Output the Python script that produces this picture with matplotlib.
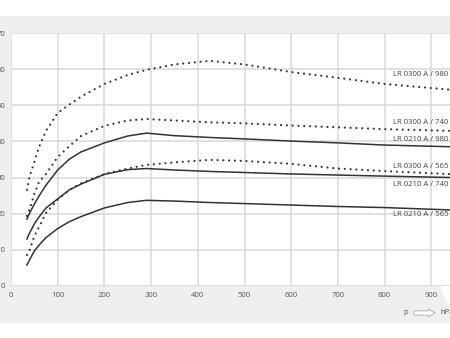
import matplotlib
matplotlib.use('Agg')
import matplotlib.pyplot as plt
from matplotlib.patches import Rectangle, Ellipse

plt.rcParams['font.family'] = ['Open Sans', 'DejaVu Sans']

# shared pressure axis (hPa)
p = [34, 40, 50, 60, 75, 100, 125, 150, 200, 250, 290, 350, 425, 500, 600, 700, 800, 950]

lr0300_980 = [26.6, 30.4, 34.3, 38.5, 42.9, 47.9, 50.2, 52.4, 55.9, 58.4, 59.8, 61.3, 62.3, 61.3, 59.2, 57.6, 55.9, 54.2]
lr0300_740 = [19.4, 21.3, 25.5, 28.8, 31.0, 35.7, 38.7, 41.5, 44.3, 45.8, 46.2, 45.8, 45.3, 45.0, 44.4, 43.9, 43.4, 42.9]
lr0300_565 = [8.6, 10.0, 13.8, 16.3, 20.2, 23.9, 26.6, 28.4, 31.0, 32.5, 33.5, 34.2, 34.9, 34.6, 33.8, 32.5, 31.8, 30.9]
lr0210_980 = [18.5, 20.2, 22.7, 24.9, 27.9, 32.1, 35.1, 37.1, 39.6, 41.5, 42.3, 41.6, 41.1, 40.7, 40.1, 39.6, 39.0, 38.5]
lr0210_740 = [13.0, 14.7, 17.2, 19.1, 21.6, 24.1, 26.6, 28.2, 30.9, 32.2, 32.5, 32.1, 31.7, 31.4, 31.0, 30.7, 30.4, 30.0]
lr0210_565 = [5.8, 7.3, 9.7, 11.3, 13.4, 15.9, 17.8, 19.2, 21.6, 23.1, 23.7, 23.5, 23.1, 22.8, 22.4, 22.0, 21.7, 21.0]

labels = ['LR 0300 A / 980', 'LR 0300 A / 740', 'LR 0210 A / 980',
          'LR 0300 A / 565', 'LR 0210 A / 740', 'LR 0210 A / 565']
label_y = [58.4, 45.2, 40.4, 33.0, 28.1, 19.9]

xticks = [0, 100, 200, 300, 400, 500, 600, 700, 800, 900, 1000]
yticks = [0, 10, 20, 30, 40, 50, 60, 70]

W, H = 450, 338
fig = plt.figure(figsize=(W / 100, H / 100), dpi=100)
fig.patch.set_facecolor('white')
fig.patches.append(Rectangle((0, 15 / H), 1, 307 / H, transform=fig.transFigure,
                             facecolor='#efefef', edgecolor='none', zorder=-10))
fig.patches.append(Ellipse((458 / W, 52 / H), 34 / W, 40 / H, transform=fig.transFigure,
                           facecolor='white', edgecolor='none', zorder=-9))

ax = fig.add_axes([11 / W, 52 / H, 467 / W, 253 / H])
ax.set_zorder(1)
ax.set_facecolor('white')
ax.set_xlim(0, 1000)
ax.set_ylim(0, 70)
ax.set_xticks(xticks)
ax.set_yticks(yticks)
ax.tick_params(length=0, labelsize=5.5, labelcolor='#555555', pad=4)
ax.grid(True, color='#d8d8d8', lw=1.1)
ax.set_axisbelow(True)
for s in ax.spines.values():
    s.set_visible(False)

line_kw = dict(color='#333333', lw=1.1)
dot_kw = dict(color='#333333', lw=1.6, dashes=(0.01, 2.6), dash_capstyle='round')

ax.plot(p, lr0300_980, **dot_kw)
ax.plot(p, lr0300_740, **dot_kw)
ax.plot(p, lr0300_565, **dot_kw)
ax.plot(p, lr0210_980, **line_kw)
ax.plot(p, lr0210_740, **line_kw)
ax.plot(p, lr0210_565, **line_kw)

for lab, yy in zip(labels, label_y):
    ax.text(818, yy, lab, fontsize=5.6, color='#444444', va='center', ha='left')

fig.text(406 / W, 25 / H, 'p', fontsize=5.5, color='#555555', va='center', ha='center')
ax.annotate('', xy=(438, 25), xytext=(411, 25), xycoords='figure pixels',
            annotation_clip=False,
            arrowprops=dict(arrowstyle='simple,head_length=0.5,head_width=0.55,tail_width=0.3',
                            fc='white', ec='#aaaaaa', lw=0.6))
fig.text(440 / W, 25 / H, 'hPa', fontsize=5.5, color='#555555', va='center', ha='left')

fig.savefig('out.png', dpi=100)
